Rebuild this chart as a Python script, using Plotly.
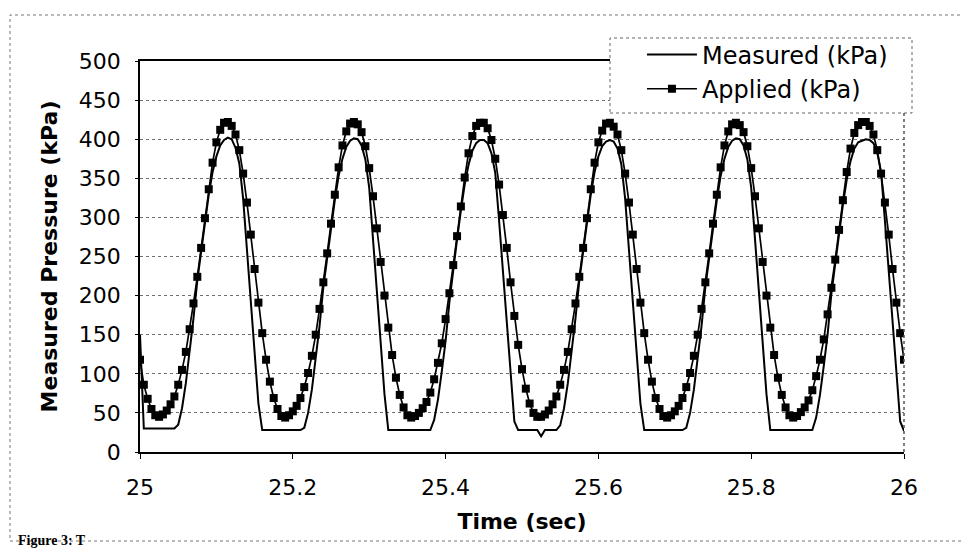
import numpy as np
import plotly.graph_objects as go

# ---------------- data ----------------
SAMPLE_RATE_HZ = 200  # one sample every 0.005 s, from 25.000 s to 26.000 s
time_s = np.round(25 + np.arange(201) / SAMPLE_RATE_HZ, 3)

applied_kpa = [
    118, 86, 68, 55, 47,
    45, 48, 53, 61, 71, 86, 105, 128, 157, 190, 224, 261, 299, 336, 370, 396, 412, 421, 422, 417,
    406, 386, 356, 319, 278, 234, 191, 152, 118, 90, 69, 55, 46,
    44, 47, 52, 59, 69, 83, 101, 123, 150, 183, 217, 254, 292, 329, 364, 392, 410, 420, 422, 419,
    409, 391, 363, 327, 286, 243, 200, 159, 124, 95, 73, 57, 47, 44,
    46, 50, 56, 64, 76, 93, 114, 139, 170, 203, 239, 276, 314, 351, 382, 404, 417, 421, 421, 414,
    399, 375, 342, 303, 261, 217, 174, 137, 106, 81, 62, 50, 45,
    45, 48, 53, 61, 71, 86, 105, 128, 157, 190, 224, 261, 299, 336, 370, 396, 411, 420, 421, 416,
    406, 386, 356, 319, 278, 234, 191, 152, 118, 90, 69, 55, 46,
    44, 47, 52, 59, 69, 83, 101, 123, 150, 183, 217, 254, 292, 329, 364, 392, 410, 419, 421, 418,
    409, 391, 363, 327, 286, 243, 200, 159, 124, 95, 73, 57, 47,
    44, 46, 51, 57, 66, 79, 97, 118, 144, 176, 210, 246, 284, 322, 358, 388, 408, 418, 422, 422,
    417, 406, 386, 356, 319, 278, 234, 191, 152, 118,
]

measured_kpa = [
    150, 30, 30, 30, 30,
    30, 30, 30, 30, 30, 35, 56, 88, 126, 171, 219, 257, 294, 329, 358, 378, 392, 399, 402, 400,
    389, 369, 324, 256, 191, 124, 62, 28, 28, 28, 28, 28, 28,
    28, 28, 28, 28, 28, 31, 50, 80, 118, 161, 211, 250, 287, 322, 353, 375, 390, 398, 401, 400,
    392, 374, 338, 269, 204, 137, 74, 28, 28, 28, 28, 28, 28, 28,
    28, 28, 28, 28, 28, 41, 67, 103, 142, 192, 234, 272, 309, 342, 367, 385, 395, 399, 399, 395,
    382, 357, 296, 231, 164, 98, 39, 28, 28, 28, 28, 28, 28,
    20, 28, 28, 28, 28, 34, 56, 88, 126, 171, 219, 257, 294, 329, 358, 378, 391, 397, 399, 397,
    388, 368, 324, 256, 191, 124, 62, 28, 28, 28, 28, 28, 28,
    28, 28, 28, 28, 28, 31, 50, 80, 118, 161, 211, 250, 287, 322, 353, 375, 390, 398, 401, 400,
    392, 374, 338, 269, 204, 137, 74, 28, 28, 28, 28, 28, 28,
    28, 28, 28, 28, 28, 28, 44, 73, 110, 150, 203, 242, 280, 316, 348, 372, 388, 396, 398, 400,
    399, 395, 383, 358, 296, 231, 164, 98, 39, 27,
]

x_tick_values = [25, 25.2, 25.4, 25.6, 25.8, 26]
x_tick_labels = ["25", "25.2", "25.4", "25.6", "25.8", "26"]
y_tick_values = [0, 50, 100, 150, 200, 250, 300, 350, 400, 450, 500]

series_names = ["Measured (kPa)", "Applied (kPa)"]
x_title = "Time (sec)"
y_title = "Measured Pressure (kPa)"
caption = "Figure 3: T"

# ---------------- figure ----------------
FONT = "DejaVu Sans"
fig = go.Figure()

fig.add_trace(go.Scatter(
    x=time_s, y=measured_kpa, name=series_names[0], mode="lines",
    line=dict(color="black", width=2),
))
fig.add_trace(go.Scatter(
    x=time_s, y=applied_kpa, name=series_names[1], mode="lines+markers",
    line=dict(color="black", width=1.7),
    marker=dict(symbol="square", size=8, color="black"),
))

fig.update_layout(
    width=962, height=550, autosize=False,
    margin=dict(l=140, r=58, t=61, b=98, pad=0),
    paper_bgcolor="white", plot_bgcolor="white",
    font=dict(family=FONT, size=22, color="black"),
    showlegend=True,
    legend=dict(
        x=0.657, y=1.073, xanchor="left", yanchor="top",
        bgcolor="rgba(0,0,0,0)", borderwidth=0,
        font=dict(family=FONT, size=24, color="black"),
        itemwidth=50, tracegroupgap=0,
    ),
)

fig.update_xaxes(
    range=[25, 26], tickmode="array", tickvals=x_tick_values, ticktext=x_tick_labels,
    showgrid=False, zeroline=False,
    showline=True, linecolor="black", linewidth=1.5, mirror=True,
    ticks="outside", ticklen=5, tickcolor="black", tickwidth=1,
    ticklabelstandoff=10,
    tickfont=dict(family=FONT, size=22),
    title=dict(text=x_title, font=dict(family=FONT, size=22, weight="bold"), standoff=14),
)
fig.update_yaxes(
    range=[0, 500], tickmode="array", tickvals=y_tick_values,
    showgrid=True, gridcolor="#707070", gridwidth=1, griddash="dot",
    zeroline=False,
    showline=True, linecolor="black", linewidth=1.5, mirror=False,
    ticks="outside", ticklen=3, tickcolor="black", tickwidth=1,
    ticklabelstandoff=10,
    tickfont=dict(family=FONT, size=22),
    title=dict(text=y_title, font=dict(family=FONT, size=22, weight="bold"), standoff=15),
)

# right border of plot area
fig.add_shape(type="line", xref="paper", yref="paper", x0=1, x1=1, y0=0, y1=1,
              line=dict(color="#555555", width=1.5, dash="dot"), layer="above")
# legend box
fig.add_shape(type="rect", xref="paper", yref="paper",
              x0=(610 - 140) / 764, x1=(912 - 140) / 764,
              y0=(452 - 113) / 391, y1=(452 - 38) / 391,
              fillcolor="white", line=dict(color="#666666", width=1, dash="dot"), layer="above")
# outer chart frame
fig.add_shape(type="rect", xref="paper", yref="paper",
              x0=(10 - 140) / 764, x1=(975 - 140) / 764,
              y0=(452 - 541) / 391, y1=(452 - 15) / 391,
              fillcolor="rgba(0,0,0,0)", line=dict(color="#777777", width=1, dash="dot"),
              layer="below")

fig.add_annotation(
    text=caption, xref="paper", yref="paper",
    x=(17 - 140) / 764, y=(452 - 549) / 391, xanchor="left", yanchor="bottom",
    showarrow=False, borderpad=0,
    font=dict(family="Liberation Serif", size=14, color="black", weight="bold"),
)

fig.write_html("out.html")
